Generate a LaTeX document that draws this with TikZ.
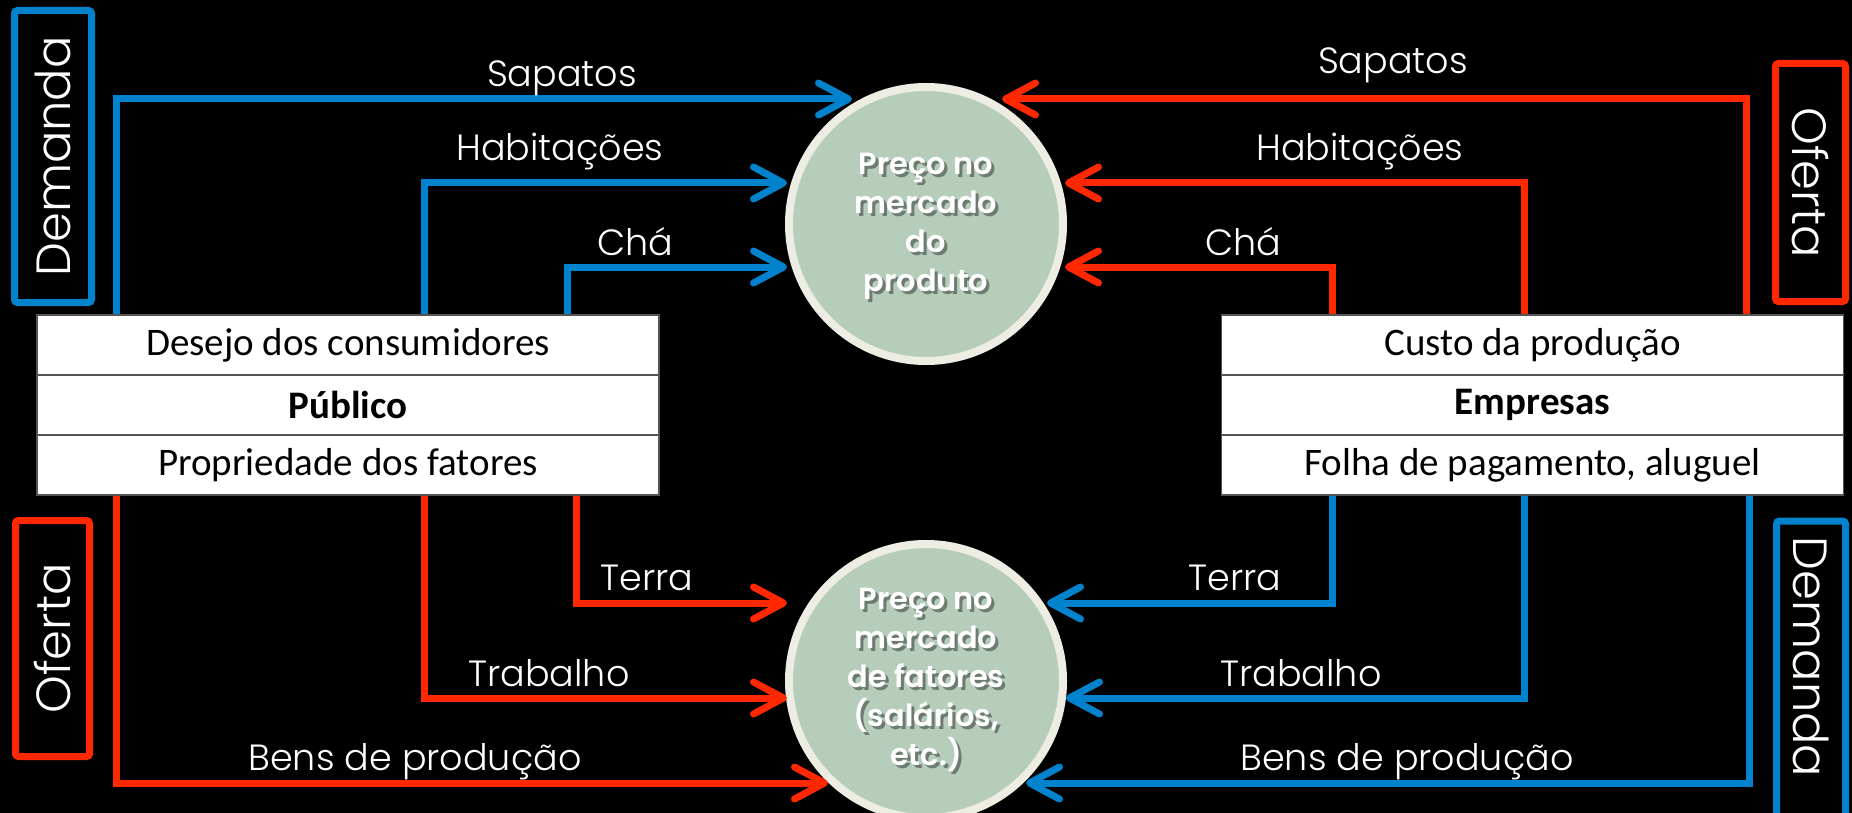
\documentclass[tikz,border=0pt]{standalone}
\usepackage{fontspec}
\usetikzlibrary{arrows.meta}
\IfFontExistsTF{Poppins Light}{\newfontfamily\thinfont{Poppins Light}}{\newfontfamily\thinfont{Poppins}}
\IfFontExistsTF{Poppins SemiBold}{\newfontfamily\circfont{Poppins SemiBold}}{\newfontfamily\circfont{Poppins}[UprightFeatures={FakeBold=0}]}
\newfontfamily\boxfont{Carlito}
\definecolor{myblue}{RGB}{0,130,204}
\definecolor{myred}{RGB}{255,40,0}
\definecolor{sage}{RGB}{183,205,187}
\definecolor{cream}{RGB}{237,237,228}
\definecolor{rowgray}{RGB}{85,85,85}
\tikzset{
  conn/.style={line width=7pt, -{Straight Barb[length=30pt, width=32pt, round]}},
  bl/.style={conn, draw=myblue},
  rd/.style={conn, draw=myred},
  row/.style={draw=rowgray, line width=1.5pt, fill=white, minimum width=622pt, minimum height=60pt, inner sep=0pt, text=black, font=\boxfont\fontsize{39}{42}\selectfont},
  circ/.style={circle, draw=cream, line width=8pt, fill=sage, minimum size=274pt, inner sep=0pt},
  ctext/.style={align=center, text=white, font=\circfont\fontsize{30.5}{39}\selectfont, inner sep=0pt},
  cshadow/.style={ctext, text=black, opacity=0.4},
  lbl/.style={anchor=base, inner sep=0pt, text=white, font=\thinfont\fontsize{36.5}{44}\selectfont},
  sidebox/.style={line width=7pt, rounded corners=3pt, inner sep=0pt, text=white, font=\thinfont\fontsize{48}{56}\selectfont},
}
\begin{document}
\begin{tikzpicture}[x=1pt, y=-1pt]
\useasboundingbox (0,0) rectangle (1852,813);
\fill[black] (0,0) rectangle (1852,813);

% column coordinates
\coordinate (cA) at (116,0);
\coordinate (cB) at (424,0);
\coordinate (cC) at (567,0);
\coordinate (cD) at (576,0);
\coordinate (cE) at (1332,0);
\coordinate (cF) at (1524,0);
\coordinate (cG) at (1746,0);
\coordinate (cH) at (1749,0);

% circles
\node[circ] (pm) at (926,224) {};
\node[circ] (fm) at (926,681) {};
\node[cshadow] at (929,229) {Preço no\\mercado\\do\\produto};
\node[ctext] (pmt) at (926,226) {Preço no\\mercado\\do\\produto};
\node[cshadow] at (929,683) {Preço no\\mercado\\de fatores\\(salários,\\etc.)};
\node[ctext] (fmt) at (926,680) {Preço no\\mercado\\de fatores\\(salários,\\etc.)};

% arrow tips
\coordinate (tS1) at (852,99);
\coordinate (tH1) at (787,183);
\coordinate (tC1) at (787,267);
\coordinate (tS2) at (1002,99);
\coordinate (tH2) at (1065,183);
\coordinate (tC2) at (1065,267);
\coordinate (tT1) at (787,603);
\coordinate (tW1) at (787,698);
\coordinate (tB1) at (828,783);
\coordinate (tT2) at (1047,603);
\coordinate (tW2) at (1066,698);
\coordinate (tB2) at (1026,783);

% box edges (for connector anchors)
\coordinate (pubTop) at (348,318);
\coordinate (pubBot) at (348,492);
\coordinate (empTop) at (1532,318);
\coordinate (empBot) at (1532,492);

% connectors
\draw[bl] (pubTop -| cA) |- (tS1);
\draw[bl] (pubTop -| cB) |- (tH1);
\draw[bl] (pubTop -| cC) |- (tC1);
\draw[rd] (empTop -| cG) |- (tS2);
\draw[rd] (empTop -| cF) |- (tH2);
\draw[rd] (empTop -| cE) |- (tC2);
\draw[rd] (pubBot -| cA) |- (tB1);
\draw[rd] (pubBot -| cB) |- (tW1);
\draw[rd] (pubBot -| cD) |- (tT1);
\draw[bl] (empBot -| cH) |- (tB2);
\draw[bl] (empBot -| cF) |- (tW2);
\draw[bl] (empBot -| cE) |- (tT2);

% box rows
\node[row] (p1) at (348,345) {Desejo dos consumidores};
\node[row] (p2) at (348,405) {\bfseries Público};
\node[row] (p3) at (348,465) {Propriedade dos fatores};
\node[row] (e1) at (1532.5,345) {Custo da produção};
\node[row] (e2) at (1532.5,405) {\bfseries Empresas};
\node[row] (e3) at (1532.5,465) {Folha de pagamento, aluguel};

% labels
\node[lbl] (l1) at (562,87) {Sapatos};
\node[lbl] (l2) at (560,161) {Habitações};
\node[lbl] (l3) at (635,255) {Chá};
\node[lbl] (l4) at (1393,74) {Sapatos};
\node[lbl] (l5) at (1360,161) {Habitações};
\node[lbl] (l6) at (1243,255) {Chá};
\node[lbl] (l7) at (647,590) {Terra};
\node[lbl] (l8) at (549,686) {Trabalho};
\node[lbl] (l9) at (415,770) {Bens de produção};
\node[lbl] (l10) at (1235,590) {Terra};
\node[lbl] (l11) at (1301,686) {Trabalho};
\node[lbl] (l12) at (1407,770) {Bens de produção};

% side labels
\node[sidebox, draw=myblue, rotate=90, minimum width=292pt, minimum height=77pt] (sd1) at (53,156.5) {Demanda};
\node[sidebox, draw=myred, rotate=90, minimum width=236pt, minimum height=74pt] (so1) at (52.5,638.5) {Oferta};
\node[sidebox, draw=myred, rotate=-90, minimum width=238pt, minimum height=70pt] (so2) at (1810.5,182.5) {Oferta};
\node[sidebox, draw=myblue, minimum width=69pt, minimum height=330pt] (sd2box) at (1811,686) {};
\node[sidebox, rotate=-90] (sd2) at (1811,657) {Demanda};
\end{tikzpicture}
\end{document}
